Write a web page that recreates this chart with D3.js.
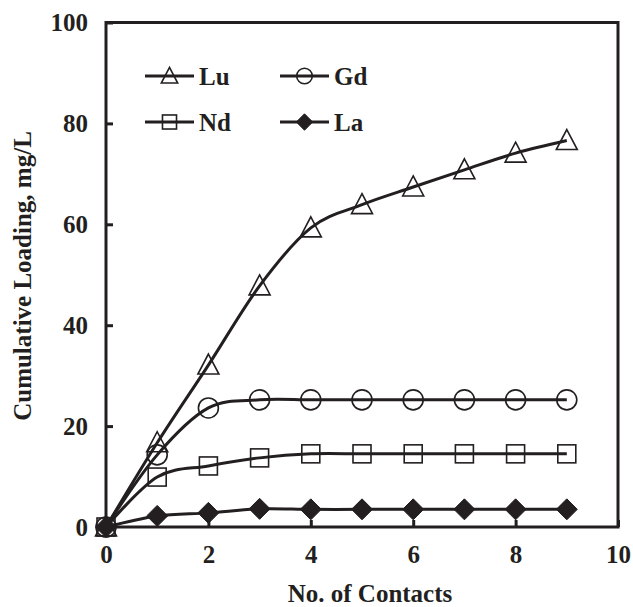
<!DOCTYPE html>
<html><head><meta charset="utf-8">
<script src="https://cdn.jsdelivr.net/npm/d3@7"></script>
<style>body{margin:0;background:#fff}svg{display:block}text{font-family:"Liberation Serif","Times New Roman",serif;font-weight:bold;fill:#231f20}</style>
</head><body>
<script>
const contacts = [0,1,2,3,4,5,6,7,8,9];
const lu = [0,16.7,32.1,47.8,59.3,63.9,67.4,70.8,74.1,76.6];
const gd = [0,14.3,23.6,25.2,25.2,25.2,25.2,25.2,25.2,25.2];
const nd = [0,9.9,12.1,13.7,14.5,14.5,14.5,14.5,14.5,14.5];
const la = [0,2.2,2.8,3.6,3.5,3.5,3.5,3.5,3.5,3.5];
const xTicks = [0,2,4,6,8,10];
const yTicks = [0,20,40,60,80,100];
const seriesNames = ["Lu","Gd","Nd","La"];
const markers = ["triangle","circle","square","diamond"];

const W=633,H=607;
const ink="#231f20";
const FS="25px";
const svg=d3.select("body").append("svg").attr("width",W).attr("height",H);
const x=d3.scaleLinear().domain([0,10]).range([106,618]);
const y=d3.scaleLinear().domain([0,100]).range([527,22.5]);

// frame
svg.append("rect").attr("x",x(0)).attr("y",y(100)).attr("width",x(10)-x(0)).attr("height",y(0)-y(100))
  .attr("fill","none").attr("stroke",ink).attr("stroke-width",3);

// axes
const xAxis=svg.append("g").attr("transform",`translate(0,${y(0)})`)
  .call(d3.axisBottom(x).tickValues(xTicks).tickSizeInner(-7).tickSizeOuter(0).tickPadding(18.5));
const yAxis=svg.append("g").attr("transform",`translate(${x(0)},0)`)
  .call(d3.axisLeft(y).tickValues(yTicks).tickSizeInner(-7).tickSizeOuter(0).tickPadding(18));
[xAxis,yAxis].forEach(a=>{
  a.select(".domain").remove();
  a.selectAll(".tick line").attr("stroke",ink).attr("stroke-width",3);
  a.selectAll(".tick text").style("font-size",FS).attr("fill",ink);
});

svg.append("text").attr("x",370).attr("y",602).attr("text-anchor","middle").style("font-size",FS).text("No. of Contacts");
svg.append("text").attr("transform","translate(31,276) rotate(-90)").attr("text-anchor","middle").style("font-size",FS).text("Cumulative Loading, mg/L");

function drawMarker(g,type,cx,cy,s){
  s=s||1;
  if(type==="triangle"){
    g.append("path").attr("d",`M${cx},${cy-11*s}L${cx+10.5*s},${cy+9*s}L${cx-10.5*s},${cy+9*s}Z`).attr("fill","none").attr("stroke",ink).attr("stroke-width",1.6);
  } else if(type==="circle"){
    g.append("circle").attr("cx",cx).attr("cy",cy).attr("r",10*s).attr("fill","none").attr("stroke",ink).attr("stroke-width",1.6);
  } else if(type==="square"){
    g.append("rect").attr("x",cx-9*s).attr("y",cy-9*s).attr("width",18*s).attr("height",18*s).attr("fill","none").attr("stroke",ink).attr("stroke-width",1.6);
  } else {
    g.append("path").attr("d",`M${cx},${cy-10.5*s}L${cx+10.5*s},${cy}L${cx},${cy+10.5*s}L${cx-10.5*s},${cy}Z`).attr("fill",ink).attr("stroke",ink).attr("stroke-width",1);
  }
}

const allSeries=[lu,gd,nd,la];
const line=d3.line().x((d,i)=>x(contacts[i])).y(d=>y(d)).curve(d3.curveCardinal.tension(0));
allSeries.forEach((vals,si)=>{
  const g=svg.append("g");
  g.append("path").attr("d",line(vals)).attr("fill","none").attr("stroke",ink).attr("stroke-width",3);
  vals.forEach((v,i)=>drawMarker(g,markers[si],x(contacts[i]),y(v),1));
});

// legend
const legPos=[[145,76],[280,76],[145,122],[280,122]];
seriesNames.forEach((n,i)=>{
  const [lx,ly]=legPos[i];
  const g=svg.append("g");
  g.append("line").attr("x1",lx).attr("x2",lx+49).attr("y1",ly).attr("y2",ly).attr("stroke",ink).attr("stroke-width",3);
  drawMarker(g,markers[i],lx+24.5,ly,0.78);
  g.append("text").attr("x",lx+54).attr("y",ly+8.5).style("font-size",FS).text(n);
});
</script>
</body></html>
